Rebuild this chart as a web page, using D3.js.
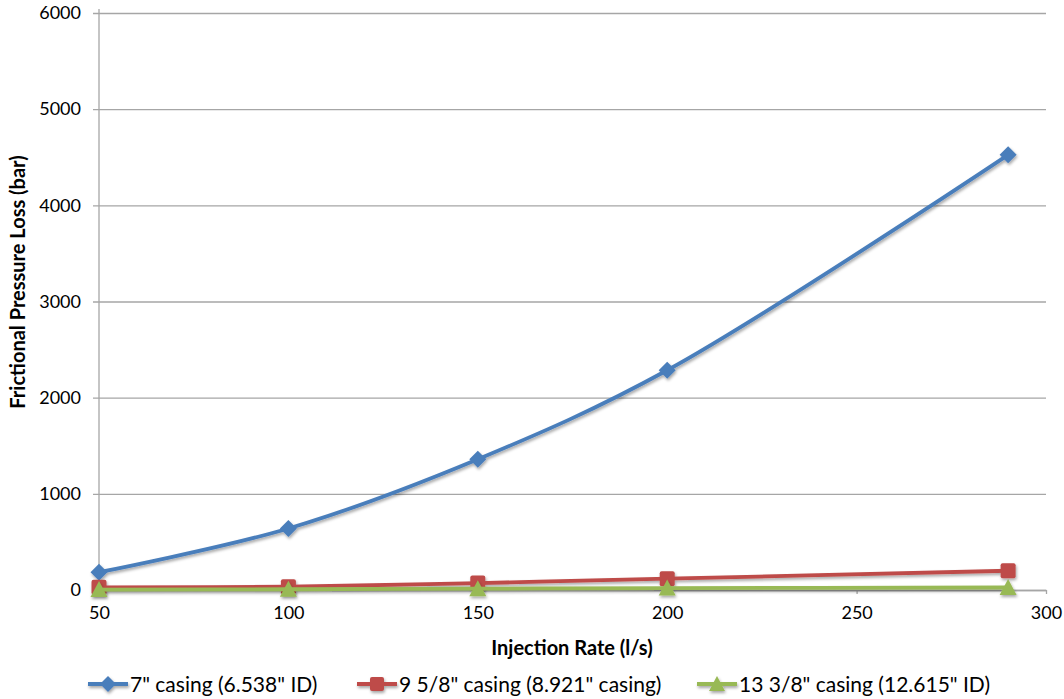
<!DOCTYPE html>
<html>
<head>
<meta charset="utf-8">
<script src="https://cdn.jsdelivr.net/npm/d3@7"></script>
<style>
  html, body { margin: 0; padding: 0; background: #fff; }
  svg { display: block; font-family: Lato, "Open Sans", sans-serif; }
</style>
</head>
<body>
<svg id="chart" width="1064" height="699"></svg>
<script>
// Injection rates (l/s)
const rates = [50, 100, 150, 200, 290];
// Frictional pressure loss (bar) per casing size
const casing7 = [185, 640, 1360, 2285, 4525];
const casing958 = [28, 34, 72, 118, 200];
const casing1338 = [4, 8, 14, 20, 26];

const seriesNames = ['7" casing (6.538" ID)', '9 5/8" casing (8.921" casing)', '13 3/8" casing (12.615" ID)'];
const seriesColors = ["#4a7ebb", "#be4b48", "#98b954"];
const seriesShapes = ["diamond", "square", "triangle"];

const xTicks = [50, 100, 150, 200, 250, 300];
const yTicks = [0, 1000, 2000, 3000, 4000, 5000, 6000];

const svg = d3.select("#chart");
const margin = { left: 99, right: 1046, top: 13, bottom: 590 };

const x = d3.scaleLinear().domain([50, 300]).range([margin.left, margin.right]);
const y = d3.scaleLinear().domain([0, 6000]).range([margin.bottom, margin.top]);

// soft drop shadow used under lines and markers
const defs = svg.append("defs");
const f = defs.append("filter").attr("id", "shadow")
  .attr("x", "-50%").attr("y", "-50%").attr("width", "200%").attr("height", "200%");
f.append("feDropShadow").attr("dx", 1).attr("dy", 2).attr("stdDeviation", 1.4)
  .attr("flood-color", "#000").attr("flood-opacity", 0.35);

// horizontal gridlines + y axis labels
const yAxis = d3.axisLeft(y).tickValues(yTicks).tickFormat(d3.format("d"))
  .tickSize(-(margin.right - margin.left)).tickPadding(18);
const gy = svg.append("g").attr("transform", `translate(${margin.left},0)`).call(yAxis);
gy.select(".domain").remove();
gy.selectAll(".tick line").attr("stroke", "#a6a6a6").attr("stroke-width", 1.3).attr("x1", -6);
gy.selectAll(".tick text").style("font-size", "18px").attr("fill", "#000")
  .style("font-family", "Lato, sans-serif");

// vertical axis line
svg.append("line").attr("x1", margin.left).attr("x2", margin.left)
  .attr("y1", margin.top - 4).attr("y2", margin.bottom)
  .attr("stroke", "#a6a6a6").attr("stroke-width", 1.3);

// x axis
const xAxis = d3.axisBottom(x).tickValues(xTicks).tickFormat(d3.format("d"))
  .tickSize(4).tickSizeOuter(0).tickPadding(12);
const gx = svg.append("g").attr("transform", `translate(0,${margin.bottom})`).call(xAxis);
gx.select(".domain").attr("stroke", "#a6a6a6").attr("stroke-width", 1.3);
gx.selectAll(".tick line").attr("stroke", "#a6a6a6").attr("stroke-width", 1.3);
gx.selectAll(".tick text").style("font-size", "18px").attr("fill", "#000")
  .style("font-family", "Lato, sans-serif");

// axis titles
svg.append("text").attr("x", 572).attr("y", 655).attr("text-anchor", "middle")
  .style("font-weight", "bold").style("font-size", "20px").text("Injection Rate (l/s)");
svg.append("text").attr("transform", "translate(25,282) rotate(-90)").attr("text-anchor", "middle")
  .style("font-weight", "bold").style("font-size", "20px").text("Frictional Pressure Loss (bar)");

function marker(sel, shape, color, size) {
  const s = size / 2;
  if (shape === "diamond") {
    sel.append("path").attr("d", `M0,${-s - 1}L${s + 1},0L0,${s + 1}L${-s - 1},0Z`).attr("fill", color);
  } else if (shape === "square") {
    sel.append("rect").attr("x", -s).attr("y", -s).attr("width", size).attr("height", size)
      .attr("rx", 2).attr("fill", color);
  } else {
    sel.append("path").attr("d", `M0,${-s - 1}L${s + 1},${s}L${-s - 1},${s}Z`).attr("fill", color);
  }
}

const line = d3.line().x((d, i) => x(rates[i])).y(d => y(d)).curve(d3.curveCatmullRom.alpha(0.5));

const allSeries = [casing7, casing958, casing1338];
allSeries.forEach((vals, k) => {
  const g = svg.append("g").attr("filter", "url(#shadow)");
  g.append("path").datum(vals).attr("d", line).attr("fill", "none")
    .attr("stroke", seriesColors[k]).attr("stroke-width", 3.8).attr("stroke-linejoin", "round");
  vals.forEach((v, i) => {
    const m = g.append("g").attr("transform", `translate(${x(rates[i])},${y(v)})`);
    marker(m, seriesShapes[k], seriesColors[k], 15);
  });
});

// legend
const legendX = [88, 357, 697];
const legendY = 684;
seriesNames.forEach((name, k) => {
  const g = svg.append("g").attr("transform", `translate(${legendX[k]},${legendY})`);
  const lg = g.append("g").attr("filter", "url(#shadow)");
  lg.append("line").attr("x1", 0).attr("x2", 40).attr("y1", 0).attr("y2", 0)
    .attr("stroke", seriesColors[k]).attr("stroke-width", 3.8);
  const m = lg.append("g").attr("transform", "translate(20,0)");
  marker(m, seriesShapes[k], seriesColors[k], 14);
  g.append("text").attr("x", 42).attr("y", 8).style("font-size", "21px").attr("fill", "#000").text(name);
});
</script>
</body>
</html>
